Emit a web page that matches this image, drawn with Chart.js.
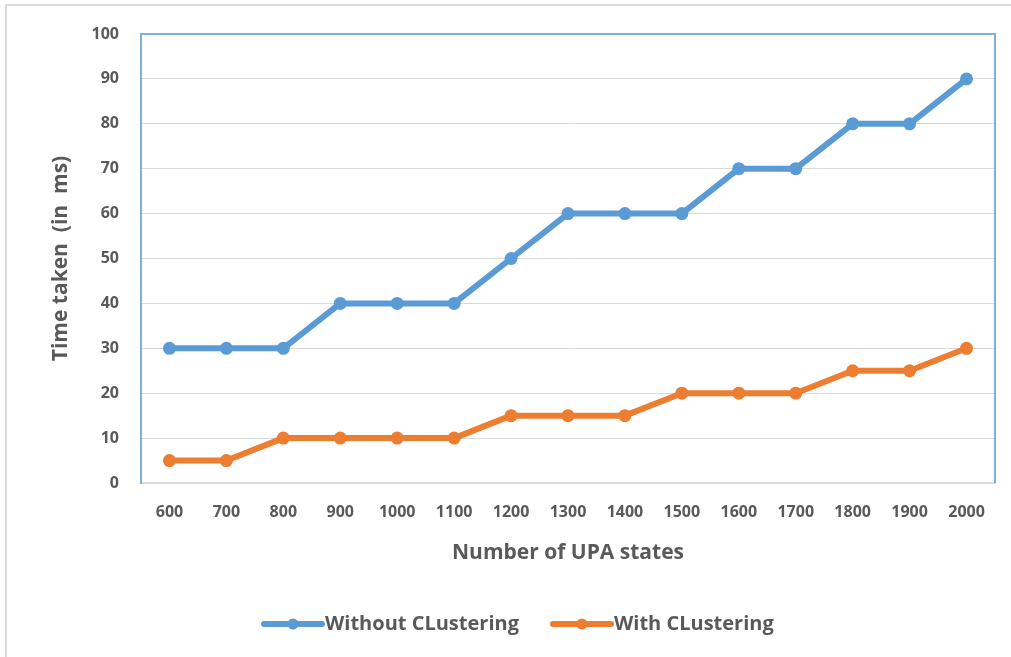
<!DOCTYPE html>
<html>
<head>
<meta charset="utf-8">
<script src="https://cdn.jsdelivr.net/npm/chart.js@4/dist/chart.umd.min.js"></script>
<style>
  html, body { margin: 0; padding: 0; background: #ffffff; }
  #wrap { position: relative; width: 1011px; height: 657px; }
</style>
</head>
<body>
<div id="wrap"><canvas id="chart" width="1011" height="657"></canvas></div>
<script>
// UPA state counts on the x axis
const states = ['600', '700', '800', '900', '1000', '1100', '1200', '1300', '1400', '1500', '1600', '1700', '1800', '1900', '2000'];
// Time taken in ms
const withoutClustering = [30, 30, 30, 40, 40, 40, 50, 60, 60, 60, 70, 70, 80, 80, 90];
const withClustering = [5, 5, 10, 10, 10, 10, 15, 15, 15, 20, 20, 20, 25, 25, 30];
const seriesNames = ['Without CLustering', 'With CLustering'];
const seriesColors = ['#5B9BD5', '#ED7D31'];

const textColor = '#595959';
const fontFamily = '"Open Sans", Lato, "Liberation Sans", sans-serif';

// Light frame around the whole picture
const framePlugin = {
  id: 'frame',
  beforeDraw(chart) {
    const ctx = chart.ctx;
    ctx.save();
    ctx.fillStyle = '#ffffff';
    ctx.fillRect(0, 0, chart.width, chart.height);
    ctx.strokeStyle = '#d9d9d9';
    ctx.lineWidth = 2;
    ctx.beginPath();
    ctx.moveTo(6, chart.height);
    ctx.lineTo(6, 5);
    ctx.lineTo(chart.width, 5);
    ctx.stroke();
    ctx.restore();
  }
};

// Blue border along the top and right of the plot area
const plotBorderPlugin = {
  id: 'plotBorder',
  beforeDatasetsDraw(chart) {
    const { ctx, chartArea: a } = chart;
    ctx.save();
    ctx.strokeStyle = '#7EB0DF';
    ctx.lineWidth = 2;
    ctx.beginPath();
    ctx.moveTo(a.left, a.top);
    ctx.lineTo(a.right, a.top);
    ctx.lineTo(a.right, a.bottom);
    ctx.stroke();
    ctx.restore();
  }
};

// Legend with line-and-dot markers below the axis title
const legendPlugin = {
  id: 'lineLegend',
  afterDraw(chart) {
    const ctx = chart.ctx;
    const starts = [264, 553];
    const y = 624;
    ctx.save();
    ctx.font = 'bold 20px ' + fontFamily;
    ctx.textBaseline = 'middle';
    chart.data.datasets.forEach((ds, i) => {
      const x = starts[i];
      ctx.strokeStyle = ds.borderColor;
      ctx.lineWidth = 6;
      ctx.lineCap = 'round';
      ctx.beginPath();
      ctx.moveTo(x, y);
      ctx.lineTo(x + 58, y);
      ctx.stroke();
      ctx.fillStyle = ds.borderColor;
      ctx.beginPath();
      ctx.arc(x + 29, y, 5.5, 0, Math.PI * 2);
      ctx.fill();
      ctx.fillStyle = textColor;
      ctx.fillText(ds.label, x + 61, y);
    });
    ctx.restore();
  }
};

new Chart(document.getElementById('chart'), {
  type: 'line',
  data: {
    labels: states,
    datasets: [
      {
        label: seriesNames[0],
        data: withoutClustering,
        borderColor: seriesColors[0],
        backgroundColor: seriesColors[0],
        borderWidth: 6,
        pointRadius: 6.5,
        pointBorderWidth: 0,
        borderJoinStyle: 'round',
        tension: 0
      },
      {
        label: seriesNames[1],
        data: withClustering,
        borderColor: seriesColors[1],
        backgroundColor: seriesColors[1],
        borderWidth: 6,
        pointRadius: 6.5,
        pointBorderWidth: 0,
        borderJoinStyle: 'round',
        tension: 0
      }
    ]
  },
  options: {
    responsive: false,
    animation: false,
    layout: { padding: { left: 0, top: 34, right: 16, bottom: 84 } },
    plugins: {
      legend: { display: false },
      tooltip: { enabled: false }
    },
    scales: {
      x: {
        offset: true,
        grid: { display: false, drawTicks: false },
        border: { display: true, color: '#d9d9d9', width: 2 },
        ticks: {
          color: textColor,
          padding: 20,
          font: { family: fontFamily, size: 16, weight: 'bold' },
          maxRotation: 0,
          autoSkip: false
        },
        title: {
          display: true,
          text: 'Number of UPA states',
          color: textColor,
          font: { family: fontFamily, size: 21, weight: 'bold' },
          padding: { top: 0, bottom: 7 }
        },
        afterFit(scale) { scale.height = 90; }
      },
      y: {
        min: 0,
        max: 100,
        grid: { color: '#d9d9d9', lineWidth: 1, drawTicks: false },
        border: { display: true, color: '#7EB0DF', width: 2 },
        ticks: {
          stepSize: 10,
          color: textColor,
          padding: 22,
          font: { family: fontFamily, size: 16, weight: 'bold' }
        },
        title: {
          display: true,
          text: 'Time taken  (in  ms)',
          color: textColor,
          font: { family: fontFamily, size: 21, weight: 'bold' },
          padding: { top: 48, bottom: 0 }
        },
        afterFit(scale) { scale.width = 141; }
      }
    }
  },
  plugins: [framePlugin, plotBorderPlugin, legendPlugin]
});
</script>
</body>
</html>
